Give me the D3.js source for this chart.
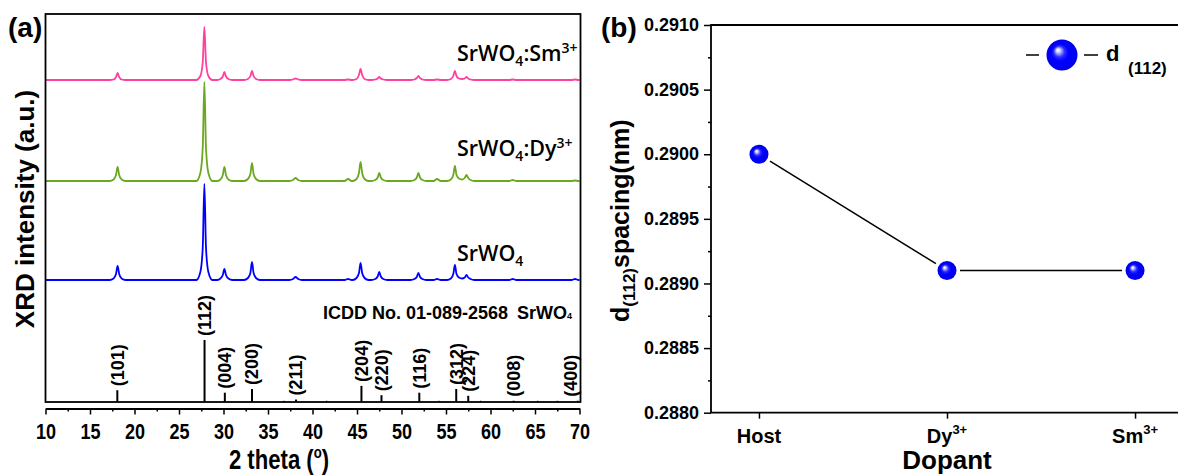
<!DOCTYPE html>
<html><head><meta charset="utf-8">
<script src="https://cdn.jsdelivr.net/npm/d3@7"></script>
<style>
body{margin:0;background:#fff}
svg{display:block}
text{font-family:"Liberation Sans",Arial,sans-serif;font-weight:bold;fill:#000}
</style>
</head><body>
<svg id="c" width="1178" height="475"></svg>
<script>
// ---------------- DATA ----------------
// Panel (a): XRD patterns (shared 2θ grid, intensities above each trace's own baseline, a.u.)
const twoTheta = [10,
 17.2,17.65,17.92,18.1,18.28,18.55,19.0,
 26.95,27.4,27.67,27.85,28.03,28.3,28.75,
 29.3,29.65,29.92,30.1,30.28,30.55,31.0,
 32.3,32.75,33.02,33.2,33.38,33.65,34.1,
 37.4,37.8,38.1,38.4,38.8,
 43.6,44.0,44.4,
 44.5,44.95,45.22,45.4,45.58,45.85,46.3,
 46.6,47.05,47.32,47.5,47.68,47.95,48.4,
 51.0,51.45,51.72,51.9,52.08,52.35,52.8,
 53.6,54.0,54.4,
 55.1,55.55,55.82,56.0,56.18,56.45,56.8,57.1,57.3,57.5,57.75,58.2,
 62.1,62.5,62.9,
 69.1,69.5,69.9,
 70];
const intensityHost = [0,
 0,1.5,6,14,6,1.5,0,
 0,8,33,96,33,8,0,
 0,1.5,5,11,5,1.5,0,
 0,2,7,18,7,2,0,
 0,1,3,1,0,
 0,1,0,
 0,2,7,17,7,2,0,
 0,1,3.5,8,3.5,1,0,
 0,1,3,7,3,1,0,
 0,1,0,
 0,1.5,6,15,6,2.5,1.5,2.5,5,2.5,1,0,
 0,1,0,
 0,1,0,
 0];
const intensityDy = [0,
 0,1.5,6,14,6,1.5,0,
 0,8,34,99,34,8,0,
 0,1.5,6,14,6,1.5,0,
 0,2,7,18,7,2,0,
 0,1,3,1,0,
 0,2,0,
 0,2,8,19,8,2,0,
 0,1,3.5,8,3.5,1,0,
 0,1,3.5,8,3.5,1,0,
 0,2,0,
 0,1.5,6,15,6,2.5,1.5,3,6,3,1,0,
 0,1,0,
 0,0.5,0,
 0];
const intensitySm = [0,
 0,0.5,3,7,3,0.5,0,
 0,4,18,53,18,4,0,
 0,1,3.5,8,3.5,1,0,
 0,1,4,9,4,1,0,
 0,0.5,1.5,0.5,0,
 0,0.5,0,
 0,1,5,11,5,1,0,
 0,0.5,1.5,3,1.5,0.5,0,
 0,0.5,2,4,2,0.5,0,
 0,0.5,0,
 0,1,4,9,4,1.5,1,1.5,3,1.5,0.5,0,
 0,0.5,0,
 0,0.5,0,
 0];
const traceOffsets = [122, 221, 322];
const traceColors = ["#0000ff", "#6aa820", "#ff40a0"];
const traceLabelMain = ["SrWO", "SrWO", "SrWO"];
const traceLabelDopant = ["", "Dy", "Sm"];

// ICDD No. 01-089-2568 reference sticks
const icddHkl = ["(101)","(112)","(004)","(200)","(211)","(204)","(220)","(116)","(312)","(224)","(008)","(400)"];
const icddPos = [18.07, 27.87, 30.15, 33.2, 38.15, 45.5, 47.75, 52.0, 56.15, 57.5, 62.6, 69.8];
const icddInt = [19, 100, 15, 21, 4, 26, 11, 15, 21, 10, 2, 2];
const icddMinorPos = [36.8, 41.6, 54.2, 58.9, 65.3, 67.5];
const icddMinorInt = [2, 2, 2, 2, 2, 2];

const xTicksA = [10,15,20,25,30,35,40,45,50,55,60,65,70];
const xMinorA = [12.5,17.5,22.5,27.5,32.5,37.5,42.5,47.5,52.5,57.5,62.5,67.5];

// Panel (b): d(112) spacing
const dopants = ["Host", "Dy", "Sm"];
const dopantSup = ["", "3+", "3+"];
const dSpacing = [0.2900, 0.2891, 0.2891];
const yTicksB = [0.2880, 0.2885, 0.2890, 0.2895, 0.2900, 0.2905, 0.2910];
const yMinorB = [0.28825, 0.28875, 0.28925, 0.28975, 0.29025, 0.29075];

// ---------------- DRAW ----------------
const svg = d3.select("#c");
const defs = svg.append("defs");
const grad = defs.append("radialGradient").attr("id","ball")
  .attr("cx","0.5").attr("cy","0.5").attr("r","0.5").attr("fx","0.36").attr("fy","0.33");
[[0,"#ffffff"],[0.1,"#e4e4ff"],[0.22,"#8c8cff"],[0.36,"#2a2aff"],[0.55,"#0000ff"],[1,"#0000ea"]]
  .forEach(([o,c]) => grad.append("stop").attr("offset",o).attr("stop-color",c));

// ===== Panel (a) =====
const xA = d3.scaleLinear().domain([10,70]).range([45.5,579.5]);
const yA = d3.scaleLinear().domain([0,388]).range([402,14]);
const stickY = d3.scaleLinear().domain([0,100]).range([402,340]);

const series = [intensityHost, intensityDy, intensitySm];
const lineA = d3.line().x(d=>xA(d[0])).y(d=>yA(d[1])).curve(d3.curveMonotoneX);
series.forEach((vals, s) => {
  const pts = twoTheta.map((t,i) => [t, traceOffsets[s] + vals[i]]);
  svg.append("path").attr("d", lineA(pts)).attr("fill","none")
    .attr("stroke", traceColors[s]).attr("stroke-width",1.8).attr("stroke-linejoin","round");
});

// sticks
icddPos.forEach((p,i) => {
  svg.append("line").attr("x1",xA(p)).attr("x2",xA(p)).attr("y1",stickY(0)).attr("y2",stickY(icddInt[i]))
    .attr("stroke","#000").attr("stroke-width",2);
  const lx = Math.min(xA(p), 570.5);
  svg.append("text").attr("transform",`translate(${lx},${stickY(icddInt[i])-4}) rotate(-90)`)
    .attr("dy","0.35em").attr("font-size",18).text(icddHkl[i]);
});
icddMinorPos.forEach((p,i) => {
  svg.append("line").attr("x1",xA(p)).attr("x2",xA(p)).attr("y1",stickY(0)).attr("y2",stickY(icddMinorInt[i]))
    .attr("stroke","#000").attr("stroke-width",1.2);
});

// frame
svg.append("rect").attr("x",45.5).attr("y",14).attr("width",535).attr("height",388)
  .attr("fill","none").attr("stroke","#000").attr("stroke-width",1.8);

// x axis (offset)
const gxA = svg.append("g").attr("transform","translate(0,408.5)")
  .call(d3.axisBottom(xA).tickValues(xTicksA).tickSize(6).tickSizeOuter(0));
gxA.attr("font-family",null).attr("font-size",null);
gxA.select(".domain").attr("stroke-width",1.8);
gxA.selectAll(".tick line").attr("stroke-width",1.5);
gxA.selectAll(".tick text").attr("font-size",22).attr("y",31).attr("dy",null)
  .style("font-weight","bold").attr("transform","scale(0.82,1)");
const gxAm = svg.append("g").attr("transform","translate(0,408.5)")
  .call(d3.axisBottom(xA).tickValues(xMinorA).tickSize(3).tickFormat(""));
gxAm.select(".domain").remove();
gxAm.selectAll(".tick line").attr("stroke-width",1.5);

// axis titles
const xt = svg.append("text").attr("transform","translate(279,469) scale(0.82,1)")
  .attr("text-anchor","middle").attr("font-size",27);
xt.append("tspan").text("2 theta (");
xt.append("tspan").attr("font-size",16).attr("dy",-11).text("o");
xt.append("tspan").attr("dy",11).text(")");

svg.append("text").attr("transform","translate(34,209) rotate(-90)")
  .attr("text-anchor","middle").attr("font-size",26).text("XRD intensity (a.u.)");
svg.append("text").attr("x",8).attr("y",37).attr("font-size",28).text("(a)");

// trace labels
const labelBase = [261, 156, 61];
series.forEach((v,s) => {
  const t = svg.append("text").attr("x",457).attr("y",labelBase[s])
    .style("font-family","'Open Sans',sans-serif").style("font-weight",600).attr("font-size",21.5);
  t.append("tspan").text(traceLabelMain[s]);
  t.append("tspan").attr("font-size",14).attr("dy",5).text("4");
  if (traceLabelDopant[s]) {
    t.append("tspan").attr("dy",-5).text(":" + traceLabelDopant[s]);
    t.append("tspan").attr("font-size",14).attr("dy",-8).text("3+");
  }
});

// ICDD label
const ic = svg.append("text").attr("x",323).attr("y",319).attr("font-size",18);
ic.append("tspan").text("ICDD No. 01-089-2568");
ic.append("tspan").attr("dx",9).text("SrWO");
ic.append("tspan").attr("font-size",9).text("4");

// ===== Panel (b) =====
const xB = d3.scaleLinear().domain([0.745,3.255]).range([711,1183]);
const yB = d3.scaleLinear().domain([0.2880,0.2910]).range([412.7,25]);

svg.append("path").attr("d",`M1183,25H711V412.7H1183`).attr("fill","none")
  .attr("stroke","#000").attr("stroke-width",1.8);

const gyB = svg.append("g").attr("transform","translate(711,0)")
  .call(d3.axisLeft(yB).tickValues(yTicksB).tickSize(7).tickPadding(5).tickFormat(d3.format(".4f")).tickSizeOuter(0));
gyB.attr("font-family",null).attr("font-size",null);
gyB.select(".domain").remove();
gyB.selectAll(".tick line").attr("stroke-width",1.5);
gyB.selectAll(".tick text").attr("font-size",18);
const gyBm = svg.append("g").attr("transform","translate(711,0)")
  .call(d3.axisLeft(yB).tickValues(yMinorB).tickSize(3).tickFormat(""));
gyBm.select(".domain").remove();
gyBm.selectAll(".tick line").attr("stroke-width",1.5);

const gxB = svg.append("g").attr("transform","translate(0,412.7)")
  .call(d3.axisBottom(xB).tickValues([1,2,3]).tickSize(6).tickFormat(""));
gxB.select(".domain").remove();
gxB.selectAll(".tick line").attr("stroke-width",1.5);
dopants.forEach((d,i) => {
  const t = svg.append("text").attr("x",xB(i+1)).attr("y",443).attr("text-anchor","middle").attr("font-size",20);
  t.append("tspan").text(d);
  if (dopantSup[i]) t.append("tspan").attr("font-size",13).attr("dy",-9).text(dopantSup[i]);
});

svg.append("text").attr("x",947).attr("y",469).attr("text-anchor","middle").attr("font-size",26).text("Dopant");
const yt = svg.append("text").attr("transform","translate(629,322) rotate(-90)").attr("font-size",25);
yt.append("tspan").text("d");
yt.append("tspan").attr("font-size",17).attr("dy",6).text("(112)");
yt.append("tspan").attr("dy",-6).text("spacing(nm)");
svg.append("text").attr("x",601).attr("y",37).attr("font-size",28).text("(b)");

// connecting line segments with gaps
const ptsB = dSpacing.map((v,i) => [xB(i+1), yB(v)]);
for (let i=0;i<ptsB.length-1;i++){
  const [x1,y1] = ptsB[i], [x2,y2] = ptsB[i+1];
  const L = Math.hypot(x2-x1,y2-y1), g = 13;
  const ux=(x2-x1)/L, uy=(y2-y1)/L;
  svg.append("line").attr("x1",x1+ux*g).attr("y1",y1+uy*g).attr("x2",x2-ux*g).attr("y2",y2-uy*g)
    .attr("stroke","#000").attr("stroke-width",1.5);
}
svg.selectAll("circle.pt").data(ptsB).enter().append("circle").attr("class","pt")
  .attr("cx",d=>d[0]).attr("cy",d=>d[1]).attr("r",9.5).attr("fill","url(#ball)");

// legend
svg.append("line").attr("x1",1026).attr("x2",1039).attr("y1",55).attr("y2",55).attr("stroke","#000").attr("stroke-width",1.5);
svg.append("line").attr("x1",1084).attr("x2",1098).attr("y1",55).attr("y2",55).attr("stroke","#000").attr("stroke-width",1.5);
svg.append("circle").attr("cx",1062).attr("cy",55).attr("r",15.5).attr("fill","url(#ball)");
svg.append("text").attr("x",1106).attr("y",61).attr("font-size",22).text("d");
svg.append("text").attr("x",1128).attr("y",74).attr("font-size",17).text("(112)");
</script>
</body></html>
